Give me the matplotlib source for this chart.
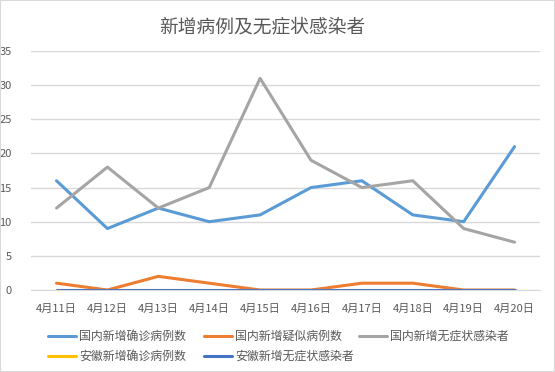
import matplotlib.pyplot as plt
from matplotlib.patches import Rectangle

plt.rcParams['font.family'] = ['Noto Sans CJK SC', 'DejaVu Sans']

dates = ['4月11日', '4月12日', '4月13日', '4月14日', '4月15日',
         '4月16日', '4月17日', '4月18日', '4月19日', '4月20日']
gn_qz = [16, 9, 12, 10, 11, 15, 16, 11, 10, 21]
gn_ys = [1, 0, 2, 1, 0, 0, 1, 1, 0, 0]
gn_wzz = [12, 18, 12, 15, 31, 19, 15, 16, 9, 7]
ah_qz = [0, 0, 0, 0, 0, 0, 0, 0, 0, 0]
ah_wzz = [0, 0, 0, 0, 0, 0, 0, 0, 0, 0]

names = ['国内新增确诊病例数', '国内新增疑似病例数', '国内新增无症状感染者',
         '安徽新增确诊病例数', '安徽新增无症状感染者']
colors = ['#5B9BD5', '#ED7D31', '#A5A5A5', '#FFC000', '#4472C4']
series = [gn_qz, gn_ys, gn_wzz, ah_qz, ah_wzz]

fig = plt.figure(figsize=(5.55, 3.72), dpi=100)
fig.patches.append(Rectangle((0, 0), 1, 1, transform=fig.transFigure,
                             fill=False, edgecolor='#D9D9D9', lw=1.5))
ax = fig.add_axes([0.056, 0.2204, 0.917, 0.6425])

x = list(range(len(dates)))
handles = []
for ys, c, n in zip(series, colors, names):
    h, = ax.plot(x, ys, color=c, lw=2.2, label=n, solid_capstyle='round')
    handles.append(h)

ax.set_xlim(-0.5, len(dates) - 0.5)
ax.set_ylim(0, 35)
ax.set_yticks(range(0, 36, 5))
ax.set_xticks(x)
ax.set_xticklabels(dates)
ax.grid(axis='y', color='#D9D9D9', lw=1)
ax.set_axisbelow(True)
for s in ['top', 'right', 'left']:
    ax.spines[s].set_visible(False)
ax.spines['bottom'].set_color('#D9D9D9')
ax.tick_params(length=0, labelsize=8, colors='#595959')
ax.tick_params(axis='x', pad=10)
ax.tick_params(axis='y', pad=14)

fig.text(0.472, 0.929, '新增病例及无症状感染者', ha='center', va='center',
         fontsize=13.5, color='#595959')

# legend: equal-width columns like the office chart
cols = [[0, 3], [1, 4], [2]]
col_x = [48 / 555, 204 / 555, 359 / 555]
for idx, cx in zip(cols, col_x):
    fig.legend([handles[i] for i in idx], [names[i] for i in idx],
               loc='upper left', bbox_to_anchor=(cx, 0.113),
               frameon=False, fontsize=8.6, labelcolor='#595959',
               handlelength=2.35, handletextpad=0.25,
               labelspacing=0.6, borderaxespad=0, borderpad=0)

fig.savefig('out.png', dpi=100)
